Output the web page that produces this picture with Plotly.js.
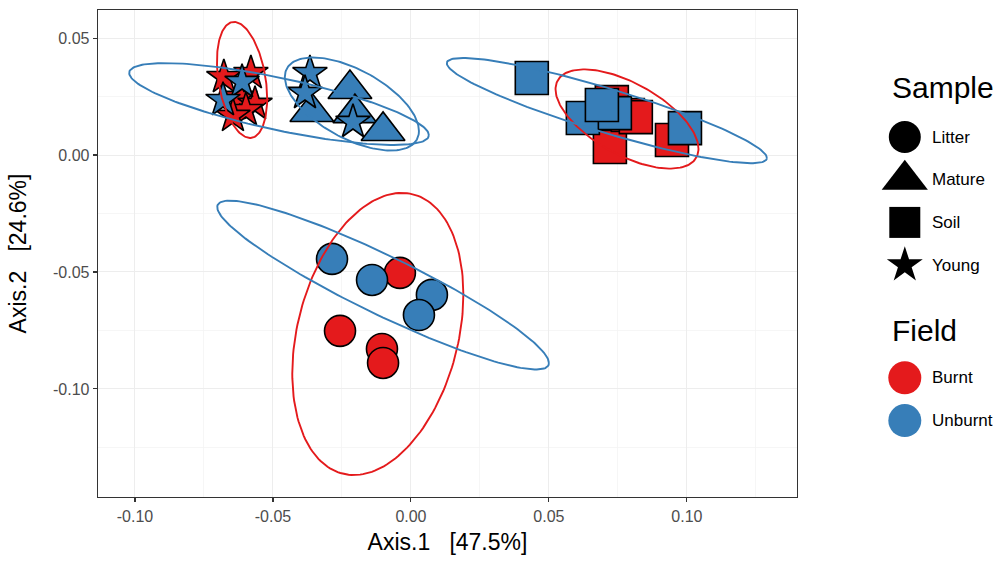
<!DOCTYPE html>
<html>
<head>
<meta charset="utf-8">
<script src="https://cdn.plot.ly/plotly-3.0.1.min.js"></script>
<style>
  html, body { margin: 0; padding: 0; background: #ffffff; }
  #chart { width: 1005px; height: 562px; }
</style>
</head>
<body>
<div id="chart"></div>
<script>
// PCoA ordination (Axis.1 vs Axis.2): shape = sample type, fill = field.

// ---- axis ticks ----
const xTickVals = [-0.10, -0.05, 0.00, 0.05, 0.10];
const xTickText = ['-0.10', '-0.05', '0.00', '0.05', '0.10'];
const yTickVals = [-0.10, -0.05, 0.00, 0.05];
const yTickText = ['-0.10', '-0.05', '0.00', '0.05'];

// ---- categories ----
const samples = ['Litter', 'Mature', 'Soil', 'Young'];
const fields = ['Burnt', 'Unburnt'];

// ---- sample scores (Axis.1, Axis.2) ----
const litterBurntX   = [-0.0040, -0.0257, -0.0105, -0.0101];
const litterBurntY   = [-0.0504, -0.0752, -0.0829, -0.0889];
const litterUnburntX = [-0.0286, -0.0141, 0.0076, 0.0029];
const litterUnburntY = [-0.0444, -0.0534, -0.0598, -0.0684];

const matureUnburntX = [-0.0221, -0.0359, -0.0203, -0.0101];
const matureUnburntY = [0.0282, 0.0184, 0.0179, 0.0103];

const soilBurntX   = [0.0728, 0.0721, 0.0786, 0.0815, 0.0946];
const soilBurntY   = [0.0226, 0.0034, 0.0171, 0.0162, 0.0064];
const soilUnburntX = [0.0438, 0.0623, 0.0739, 0.0692, 0.0993];
const soilUnburntY = [0.0329, 0.0158, 0.0179, 0.0214, 0.0115];

const youngBurntX   = [-0.0678, -0.0580, -0.0620, -0.0565, -0.0598, -0.0645];
const youngBurntY   = [0.0333, 0.0350, 0.0248, 0.0218, 0.0192, 0.0167];
const youngUnburntX = [-0.0612, -0.0681, -0.0366, -0.0384, -0.0210];
const youngUnburntY = [0.0312, 0.0235, 0.0350, 0.0265, 0.0141];

// ---- 95% ellipses per group: centre, half-width, half-height, correlation ----
const ellSample = ['Litter', 'Litter', 'Mature', 'Soil', 'Soil', 'Young', 'Young'];
const ellField  = ['Burnt', 'Unburnt', 'Unburnt', 'Burnt', 'Unburnt', 'Burnt', 'Unburnt'];
const ellCx  = [-0.0120, -0.0101, -0.0214, 0.0783, 0.0710, -0.0612, -0.0478];
const ellCy  = [-0.0765, -0.0556, 0.0218, 0.0154, 0.0190, 0.0321, 0.0218];
const ellHx  = [0.0310, 0.0601, 0.0243, 0.0259, 0.0580, 0.0091, 0.0543];
const ellHy  = [0.0603, 0.0361, 0.0199, 0.0212, 0.0225, 0.0248, 0.0175];
const ellRho = [0.28, -0.923, -0.58, -0.60, -0.90, -0.32, -0.76];

// ---- styling ----
const fieldColor = { Burnt: '#E41A1C', Unburnt: '#377EB8' };
const sampleSymbol = { Litter: 'circle', Mature: 'triangle-up', Soil: 'square', Young: 'star' };
const pointSize = { Litter: 31, Mature: 38, Soil: 33, Young: 26 };
const keySize = { Litter: 32, Mature: 40, Soil: 31, Young: 27 };
const FONT = 'Liberation Sans, Arial, Helvetica, sans-serif';

const groups = [
  { sample: 'Litter', field: 'Burnt',   x: litterBurntX,   y: litterBurntY },
  { sample: 'Mature', field: 'Unburnt', x: matureUnburntX, y: matureUnburntY },
  { sample: 'Soil',   field: 'Burnt',   x: soilBurntX,     y: soilBurntY },
  { sample: 'Young',  field: 'Burnt',   x: youngBurntX,    y: youngBurntY },
  { sample: 'Litter', field: 'Unburnt', x: litterUnburntX, y: litterUnburntY },
  { sample: 'Soil',   field: 'Unburnt', x: soilUnburntX,   y: soilUnburntY },
  { sample: 'Young',  field: 'Unburnt', x: youngUnburntX,  y: youngUnburntY }
];

const traces = [];

groups.forEach(g => {
  traces.push({
    type: 'scatter', mode: 'markers',
    x: g.x, y: g.y, xaxis: 'x', yaxis: 'y',
    showlegend: false, hoverinfo: 'skip',
    marker: {
      symbol: sampleSymbol[g.sample], size: pointSize[g.sample],
      color: fieldColor[g.field], opacity: 1,
      line: { color: '#000000', width: 1.6 }
    }
  });
});

// ellipse outline from centre, spread and correlation
const STEPS = 180;
ellCx.forEach((cx, k) => {
  const ex = [], ey = [];
  const s = Math.sqrt(1 - ellRho[k] * ellRho[k]);
  for (let i = 0; i <= STEPS; i++) {
    const t = 2 * Math.PI * i / STEPS;
    ex.push(cx + ellHx[k] * Math.cos(t));
    ey.push(ellCy[k] + ellHy[k] * (ellRho[k] * Math.cos(t) + s * Math.sin(t)));
  }
  traces.push({
    type: 'scatter', mode: 'lines', x: ex, y: ey, xaxis: 'x', yaxis: 'y',
    showlegend: false, hoverinfo: 'skip',
    line: { color: fieldColor[ellField[k]], width: 1.9 }
  });
});

// ---- legend drawn on its own hidden axes (one row per key) ----
const KEY_X = 0.32, LABEL_X = 0.50, TITLE_X = 0.215;
const FIELD_ROW0 = samples.length + 1.64;

traces.push({
  type: 'scatter', mode: 'markers', xaxis: 'x2', yaxis: 'y2',
  x: samples.map(() => KEY_X), y: samples.map((s, i) => i),
  showlegend: false, hoverinfo: 'skip', cliponaxis: false,
  marker: {
    symbol: samples.map(s => sampleSymbol[s]), size: samples.map(s => keySize[s]),
    color: '#000000', opacity: 1, line: { width: 0 }
  }
});
traces.push({
  type: 'scatter', mode: 'markers', xaxis: 'x2', yaxis: 'y2',
  x: fields.map(() => KEY_X), y: fields.map((f, i) => FIELD_ROW0 + i),
  showlegend: false, hoverinfo: 'skip', cliponaxis: false,
  marker: { symbol: 'circle', size: 33, color: fields.map(f => fieldColor[f]), opacity: 1, line: { width: 0 } }
});

const annotations = [];
annotations.push({ xref: 'x2', yref: 'y2', x: TITLE_X, y: -1.15, text: 'Sample', showarrow: false,
  xanchor: 'left', yanchor: 'middle', font: { family: FONT, size: 30, color: '#000000' } });
samples.forEach((s, i) => annotations.push({ xref: 'x2', yref: 'y2', x: LABEL_X, y: i, text: s,
  showarrow: false, xanchor: 'left', yanchor: 'middle', font: { family: FONT, size: 17, color: '#000000' } }));
annotations.push({ xref: 'x2', yref: 'y2', x: TITLE_X, y: samples.length + 0.52, text: 'Field', showarrow: false,
  xanchor: 'left', yanchor: 'middle', font: { family: FONT, size: 30, color: '#000000' } });
fields.forEach((f, i) => annotations.push({ xref: 'x2', yref: 'y2', x: LABEL_X, y: FIELD_ROW0 + i, text: f,
  showarrow: false, xanchor: 'left', yanchor: 'middle', font: { family: FONT, size: 17, color: '#000000' } }));

// ---- layout ----
const W = 1005, H = 562;
const margin = { l: 98, r: 5, t: 10, b: 65 };
const panelRight = 797, legendLeft = 860;
const paperW = W - margin.l - margin.r;

const axisCommon = {
  showline: true, mirror: true, linecolor: '#333333', linewidth: 1.3,
  ticks: 'outside', ticklen: 4, tickwidth: 1.1, tickcolor: '#333333',
  showgrid: true, gridcolor: '#EDEDED', gridwidth: 1, zeroline: false,
  tickfont: { family: FONT, size: 16, color: '#4D4D4D' },
  tickmode: 'array'
};

const minorGrid = { tickmode: 'linear', tick0: 0, dtick: 0.025, showgrid: true, gridcolor: '#F4F4F4', gridwidth: 0.8, ticks: '' };

const layout = {
  width: W, height: H, margin: margin,
  paper_bgcolor: '#ffffff', plot_bgcolor: '#ffffff',
  showlegend: false, hovermode: false,
  font: { family: FONT },
  xaxis: Object.assign({}, axisCommon, {
    domain: [0, (panelRight - margin.l) / paperW],
    range: [-0.1134, 0.1399], anchor: 'y',
    tickvals: xTickVals, ticktext: xTickText, minor: minorGrid,
    title: { text: 'Axis.1\u00a0\u00a0\u00a0[47.5%]', font: { family: FONT, size: 23, color: '#000000' }, standoff: 10 }
  }),
  yaxis: Object.assign({}, axisCommon, {
    domain: [0, 1], range: [-0.1462, 0.0620], anchor: 'x',
    tickvals: yTickVals, ticktext: yTickText, minor: minorGrid,
    title: { text: 'Axis.2\u00a0\u00a0\u00a0[24.6%]', font: { family: FONT, size: 23, color: '#000000' }, standoff: 20 }
  }),
  xaxis2: { domain: [(legendLeft - margin.l) / paperW, 1], range: [0, 1], visible: false, anchor: 'y2', fixedrange: true },
  yaxis2: { domain: [0, 1], range: [8.43, -2.974], visible: false, anchor: 'x2', fixedrange: true },
  annotations: annotations
};

Plotly.newPlot('chart', traces, layout, { staticPlot: true, displayModeBar: false });
</script>
</body>
</html>
